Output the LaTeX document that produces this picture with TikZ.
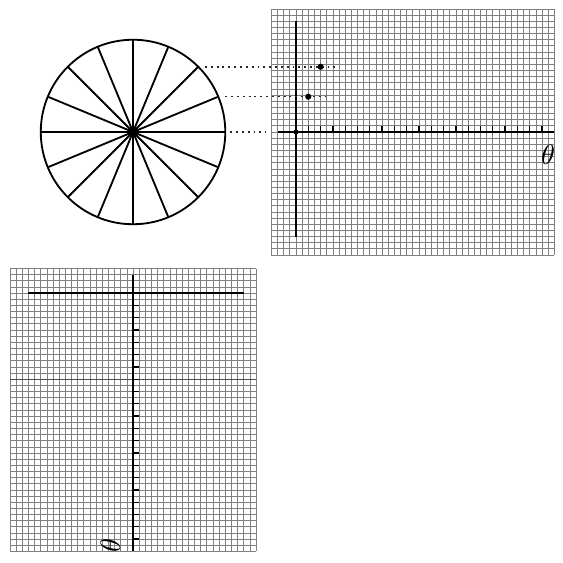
\documentclass[tikz,border=0pt]{standalone}
\usepackage{amsmath, amssymb}
\usepackage{tikz}

\begin{document}
\begin{tikzpicture}[x=0.2cm, y=0.2cm,
    gridline/.style={black!50, line width=0.7pt, step=0.2cm},
    axis/.style={line width=1.9pt},
    tickmark/.style={line width=1.2pt},
    spoke/.style={line width=1.7pt},
    guide/.style={black!85, line width=1.5pt, dash pattern=on 1.8pt off 3.6pt},
    dot/.style={fill=black}]
        \useasboundingbox (-48.13,-69.92) rectangle (43.41,21.46);

        % Hjulet
        \coordinate (m) at (-26.5,0);
        \draw[spoke] (m) circle (15);
        \foreach \a in {0,22.5,...,337.5} {
            \draw[spoke] (m) -- ++(\a:15);
        }
        \fill (m) circle (0.65);

        % Rutenett oppe til hoyre
        \draw[gridline] (-4,-20) grid (42,20);
        \draw[axis] (-3,0) -- (42,0);
        \draw[axis] (0,-17) -- (0,18);
        \foreach \x in {2,4,...,40} {
            \draw[tickmark] (\x,0) -- (\x,1);
        }
        \node[scale=2.6] (theta1) at (41,-3.7) {$\theta$};

        % Projeksjonslinjer
        \coordinate (p0) at (0,0);
        \coordinate (p1) at (4,{15*sin(45)});
        \coordinate (p2) at (2,{15*sin(22.5)});
        \draw[guide] (-14.8,{15*sin(45)}) -- (6.8,{15*sin(45)});
        \draw[guide] (-11.5,{15*sin(22.5)}) -- (5,{15*sin(22.5)});
        \draw[guide] (-10.7,0) -- (-4.9,0);
        \fill[dot] (p1) circle (0.5);
        \fill[dot] (p2) circle (0.5);
        \fill[dot] (p0) circle (0.42);

        % Rutenett nede til venstre (dreid)
        \begin{scope}[shift={(-26.5,-26.2)}, rotate=-90]
            \draw[gridline] (-4,-20) grid (42,20);
            \draw[black!70, line width=0.9pt] (14,-20) -- (14,20);
            \draw[axis] (-3,0) -- (42,0);
            \draw[axis] (0,-17) -- (0,18);
            \foreach \x in {2,4,...,40} {
                \draw[tickmark] (\x,0) -- (\x,1);
            }
            \node[scale=2.6, rotate=-90] (theta2) at (41,-3.7) {$\theta$};
        \end{scope}
\end{tikzpicture}
\end{document}
